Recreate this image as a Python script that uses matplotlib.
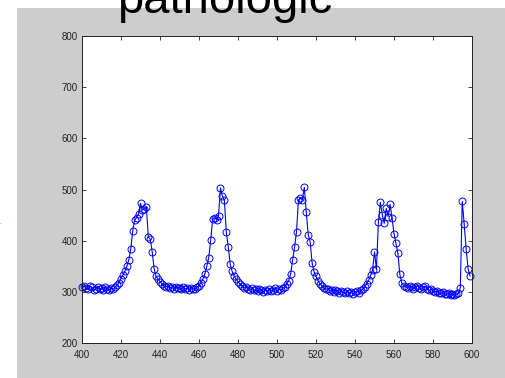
import matplotlib
matplotlib.use("Agg")
import matplotlib.pyplot as plt
import numpy as np

# signal values, one sample per unit from 400 to 599
x_vals = np.arange(400, 600)
y_vals = [
    310, 312, 307, 305, 311, 309, 303, 306, 310, 305,
    307, 304, 309, 306, 303, 307, 305, 310, 313, 318,
    326, 333, 340, 350, 362, 384, 419, 440, 445, 452,
    473, 460, 462, 466, 407, 403, 378, 345, 330, 325,
    320, 316, 312, 310, 311, 308, 309, 306, 310, 307,
    308, 305, 309, 306, 307, 304, 308, 306, 305, 309,
    312, 318, 325, 335, 350, 367, 401, 443, 445, 441,
    448, 503, 487, 479, 417, 388, 354, 340, 331, 325,
    320, 315, 312, 308, 310, 306, 304, 307, 303, 305,
    301, 306, 303, 300, 304, 302, 305, 301, 304, 307,
    302, 305, 303, 307, 310, 315, 322, 335, 362, 387,
    417, 479, 483, 480, 504, 456, 412, 398, 357, 339,
    330, 322, 316, 312, 308, 305, 306, 302, 304, 300,
    303, 301, 298, 302, 299, 297, 301, 298, 300, 296,
    299, 302, 298, 303, 305, 310, 316, 323, 332, 342,
    378, 344, 437, 475, 450, 434, 463, 447, 471, 444,
    414, 395, 375, 334, 317, 312, 310, 308, 311, 309,
    306, 310, 312, 308, 305, 309, 311, 306, 303, 305,
    302, 300, 301, 298, 297, 299, 296, 295, 297, 294,
    296, 293, 295, 297, 308, 477, 432, 384, 345, 331,
]
x_ticks = np.arange(400, 601, 20)
y_ticks = np.arange(200, 801, 100)

plt.rcParams['font.family'] = ['Liberation Sans', 'DejaVu Sans']

fig = plt.figure(figsize=(5.06, 3.78), dpi=100)
fig.patch.set_facecolor("white")

# grey figure panel (offset from the top-left corner)
panel = plt.Rectangle((17 / 506, 0), 1 - 17 / 506, 1 - 8 / 378,
                      transform=fig.transFigure, facecolor="#cdcdcd",
                      edgecolor="none", zorder=-1)
fig.patches.append(panel)

ax = fig.add_axes([82 / 506, 1 - 343 / 378, (472 - 82) / 506, (343 - 36) / 378])
ax.set_zorder(2)
ax.set_facecolor("white")
ax.plot(x_vals, y_vals, color="#0000ff", linewidth=0.8, marker="o",
        markersize=5, markerfacecolor="none", markeredgewidth=0.7,
        clip_on=False)

ax.set_xlim(400, 600)
ax.set_ylim(200, 800)
ax.set_xticks(x_ticks)
ax.set_yticks(y_ticks)
ax.tick_params(direction="in", length=3, width=0.6, top=True, right=True,
               labelsize=7, labelcolor="#222222", color="#222222")
ax.tick_params(axis="x", pad=5)
ax.tick_params(axis="y", pad=3)
for s in ax.spines.values():
    s.set_linewidth(0.7)
    s.set_color("#222222")

fig.text(225 / 506, 1 - 13 / 378, "pathologic", fontsize=34,
         ha="center", va="baseline", color="black", zorder=3)
fig.text(0, 1 - 224 / 378, "-", fontsize=6, color="#ff8080",
         ha="center", va="center")

fig.savefig("out.png", dpi=100)
plt.close(fig)
